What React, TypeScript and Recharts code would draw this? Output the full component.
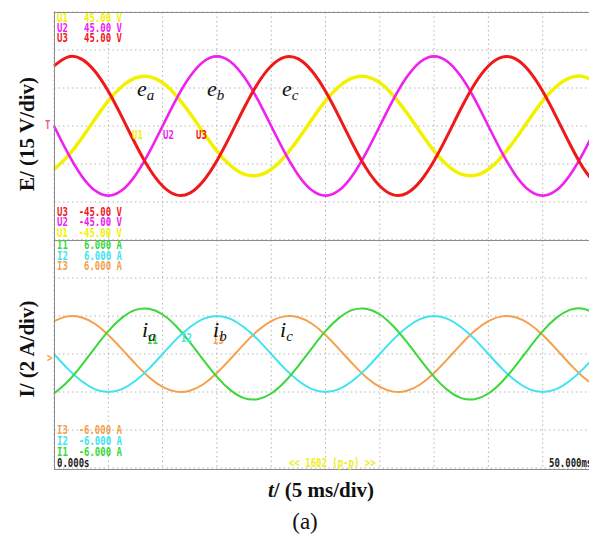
import { LineChart, Line, XAxis, YAxis, CartesianGrid } from 'recharts';

// time samples, ms (5 ms/div, 10 div)
const TIME = [
  0, 1.25, 2.5, 3.75, 5, 6.25, 7.5, 8.75, 10, 11.25, 12.5, 13.75, 15, 16.25, 17.5, 18.75,
  20, 21.25, 22.5, 23.75, 25, 26.25, 27.5, 28.75, 30, 31.25, 32.5, 33.75, 35, 36.25, 37.5, 38.75,
  40, 41.25, 42.5, 43.75, 45, 46.25, 47.5, 48.75, 50,
];
const TIME_TICKS = [0, 5, 10, 15, 20, 25, 30, 35, 40, 45, 50];

// phase voltages, V
const U1 = [
  -17.1, -12.0, -5.1, 2.6, 9.9, 15.6, 19.0, 19.5, 17.1, 12.0, 5.1, -2.6, -9.9, -15.6, -19.0, -19.5,
  -17.1, -12.0, -5.1, 2.6, 9.9, 15.6, 19.0, 19.5, 17.1, 12.0, 5.1, -2.6, -9.9, -15.6, -19.0, -19.5,
  -17.1, -12.0, -5.1, 2.6, 9.9, 15.6, 19.0, 19.5, 17.1,
];
const U2 = [
  0, -10.5, -19.4, -25.4, -27.5, -25.4, -19.4, -10.5, 0, 10.5, 19.4, 25.4, 27.5, 25.4, 19.4, 10.5,
  0, -10.5, -19.4, -25.4, -27.5, -25.4, -19.4, -10.5, 0, 10.5, 19.4, 25.4, 27.5, 25.4, 19.4, 10.5,
  0, -10.5, -19.4, -25.4, -27.5, -25.4, -19.4, -10.5, 0,
];
const U3 = [
  23.7, 27.2, 26.5, 21.7, 13.7, 3.6, -7.1, -16.7, -23.7, -27.2, -26.5, -21.7, -13.7, -3.6, 7.1, 16.7,
  23.7, 27.2, 26.5, 21.7, 13.7, 3.6, -7.1, -16.7, -23.7, -27.2, -26.5, -21.7, -13.7, -3.6, 7.1, 16.7,
  23.7, 27.2, 26.5, 21.7, 13.7, 3.6, -7.1, -16.7, -23.7,
];
const U_TICKS = [-45, -30, -15, 0, 15, 30, 45];

// phase currents, A
const I1 = [
  -2.08, -1.46, -0.62, 0.31, 1.2, 1.9, 2.32, 2.38, 2.08, 1.46, 0.62, -0.31, -1.2, -1.9, -2.32, -2.38,
  -2.08, -1.46, -0.62, 0.31, 1.2, 1.9, 2.32, 2.38, 2.08, 1.46, 0.62, -0.31, -1.2, -1.9, -2.32, -2.38,
  -2.08, -1.46, -0.62, 0.31, 1.2, 1.9, 2.32, 2.38, 2.08,
];
const I2 = [
  0, -0.77, -1.41, -1.85, -2.0, -1.85, -1.41, -0.77, 0, 0.77, 1.41, 1.85, 2.0, 1.85, 1.41, 0.77,
  0, -0.77, -1.41, -1.85, -2.0, -1.85, -1.41, -0.77, 0, 0.77, 1.41, 1.85, 2.0, 1.85, 1.41, 0.77,
  0, -0.77, -1.41, -1.85, -2.0, -1.85, -1.41, -0.77, 0,
];
const I3 = [
  1.73, 1.98, 1.93, 1.59, 1.0, 0.26, -0.52, -1.22, -1.73, -1.98, -1.93, -1.59, -1.0, -0.26, 0.52, 1.22,
  1.73, 1.98, 1.93, 1.59, 1.0, 0.26, -0.52, -1.22, -1.73, -1.98, -1.93, -1.59, -1.0, -0.26, 0.52, 1.22,
  1.73, 1.98, 1.93, 1.59, 1.0, 0.26, -0.52, -1.22, -1.73,
];
const I_TICKS = [-6, -4, -2, 0, 2, 4, 6];

const C = {
  u1: '#f2f200',
  u2: '#f020f0',
  u3: '#f01818',
  i1: '#3ad83a',
  i2: '#3ee4f0',
  i3: '#f4a04c',
};

const voltData = TIME.map((t, i) => ({ t, u1: U1[i], u2: U2[i], u3: U3[i] }));
const currData = TIME.map((t, i) => ({ t, i1: I1[i], i2: I2[i], i3: I3[i] }));

const GRID = '#b4b4b4';
const MONO = '"DejaVu Sans Mono", monospace';
const SERIF = '"Liberation Serif", "Times New Roman", serif';

// oscilloscope readout text (narrow mono)
function Scope({ x, y, fill, children }: { x: number; y: number; fill: string; children: string }) {
  return (
    <g transform={`translate(${x},${y}) scale(0.72,1)`}>
      <text x={0} y={0} fontFamily={MONO} fontSize={12.5} fontWeight="bold" fill={fill} style={{ whiteSpace: 'pre' }}>
        {children}
      </text>
    </g>
  );
}

function Sym({ x, y, main, sub }: { x: number; y: number; main: string; sub: string }) {
  return (
    <text x={x} y={y} fontFamily={SERIF} fontStyle="italic" fontSize={22} fill="#111">
      {main}
      <tspan fontSize={15} dy={4}>{sub}</tspan>
    </text>
  );
}

export default function App() {
  return (
    <div style={{ position: 'fixed', left: 0, top: 0, width: 589, height: 537, overflow: 'hidden', background: '#fff' }}>
      <div style={{ position: 'absolute', left: 0, top: 0 }}>
        <LineChart width={600} height={241} data={voltData} margin={{ top: 12, right: 3, bottom: 1, left: 54 }}>
          <CartesianGrid stroke={GRID} strokeDasharray="1.5 3" />
          <XAxis dataKey="t" type="number" domain={[0, 50]} ticks={TIME_TICKS} hide />
          <YAxis type="number" domain={[-45, 45]} ticks={U_TICKS} hide />
          <Line type="natural" dataKey="u1" stroke={C.u1} strokeWidth={3.5} dot={false} isAnimationActive={false} />
          <Line type="natural" dataKey="u2" stroke={C.u2} strokeWidth={2.6} dot={false} isAnimationActive={false} />
          <Line type="natural" dataKey="u3" stroke={C.u3} strokeWidth={3} dot={false} isAnimationActive={false} />
        </LineChart>
      </div>
      <div style={{ position: 'absolute', left: 0, top: 0 }}>
        <LineChart width={600} height={469} data={currData} margin={{ top: 240, right: 3, bottom: 1, left: 54 }}>
          <CartesianGrid stroke={GRID} strokeDasharray="1.5 3" />
          <XAxis dataKey="t" type="number" domain={[0, 50]} ticks={TIME_TICKS} hide />
          <YAxis type="number" domain={[-6, 6]} ticks={I_TICKS} hide />
          <Line type="natural" dataKey="i3" stroke={C.i3} strokeWidth={2} dot={false} isAnimationActive={false} />
          <Line type="natural" dataKey="i2" stroke={C.i2} strokeWidth={2} dot={false} isAnimationActive={false} />
          <Line type="natural" dataKey="i1" stroke={C.i1} strokeWidth={2} dot={false} isAnimationActive={false} />
        </LineChart>
      </div>

      {/* scope frame */}
      <div style={{ position: 'absolute', left: 54, top: 12, width: 600, height: 456, borderTop: '1px solid #8c8c8c', borderLeft: '1px solid #8c8c8c', borderBottom: '1px solid #8c8c8c' }} />
      <div style={{ position: 'absolute', left: 54, top: 240, width: 600, height: 1, background: '#8c8c8c' }} />

      <svg width={589} height={537} style={{ position: 'absolute', left: 0, top: 0, pointerEvents: 'none' }}>
        <Scope x={57} y={22} fill={C.u1}>{'U1   45.00 V'}</Scope>
        <Scope x={57} y={32} fill={C.u2}>{'U2   45.00 V'}</Scope>
        <Scope x={57} y={42} fill={C.u3}>{'U3   45.00 V'}</Scope>
        <Scope x={57} y={216} fill={C.u3}>{'U3  -45.00 V'}</Scope>
        <Scope x={57} y={226} fill={C.u2}>{'U2  -45.00 V'}</Scope>
        <Scope x={57} y={237} fill={C.u1}>{'U1  -45.00 V'}</Scope>

        <Scope x={57} y={249} fill={C.i1}>{'I1   6.000 A'}</Scope>
        <Scope x={57} y={259.5} fill={C.i2}>{'I2   6.000 A'}</Scope>
        <Scope x={57} y={270} fill={C.i3}>{'I3   6.000 A'}</Scope>
        <Scope x={57} y={434} fill={C.i3}>{'I3  -6.000 A'}</Scope>
        <Scope x={57} y={445} fill={C.i2}>{'I2  -6.000 A'}</Scope>
        <Scope x={57} y={456} fill={C.i1}>{'I1  -6.000 A'}</Scope>
        <Scope x={57} y={467} fill="#222">{'0.000s'}</Scope>
        <Scope x={289} y={467} fill="#eeee20">{'<< 1602 (p-p) >>'}</Scope>
        <Scope x={549} y={467} fill="#222">{'50.000ms'}</Scope>

        <Scope x={45} y={129} fill="#f06080">{'T'}</Scope>
        <Scope x={47} y={362} fill={C.i3}>{'>'}</Scope>

        <Scope x={132} y={139} fill={C.u1}>{'U1'}</Scope>
        <Scope x={163} y={139} fill={C.u2}>{'U2'}</Scope>
        <Scope x={196} y={139} fill={C.u3}>{'U3'}</Scope>
        <Scope x={147} y={344} fill={C.i1}>{'I1'}</Scope>
        <Scope x={181} y={342} fill={C.i2}>{'I2'}</Scope>
        <Scope x={213} y={344} fill={C.i3}>{'I3'}</Scope>

        <Sym x={137} y={96} main="e" sub="a" />
        <Sym x={207} y={96} main="e" sub="b" />
        <Sym x={282} y={96} main="e" sub="c" />
        <Sym x={142} y={337} main="i" sub="a" />
        <Sym x={213} y={337} main="i" sub="b" />
        <Sym x={280} y={337} main="i" sub="c" />

        <text transform="translate(34,134) rotate(-90)" textAnchor="middle" fontFamily={SERIF} fontWeight="bold" fontSize={21} fill="#111">
          E/ (15 V/div)
        </text>
        <text transform="translate(34,349) rotate(-90)" textAnchor="middle" fontFamily={SERIF} fontWeight="bold" fontSize={21} fill="#111">
          I/ (2 A/div)
        </text>
        <text x={321} y={497} textAnchor="middle" fontFamily={SERIF} fontWeight="bold" fontSize={21} fill="#111">
          <tspan fontStyle="italic">t</tspan>/ (5 ms/div)
        </text>
        <text x={305} y={529} textAnchor="middle" fontFamily={SERIF} fontSize={23} fill="#111">
          (a)
        </text>
      </svg>
    </div>
  );
}
